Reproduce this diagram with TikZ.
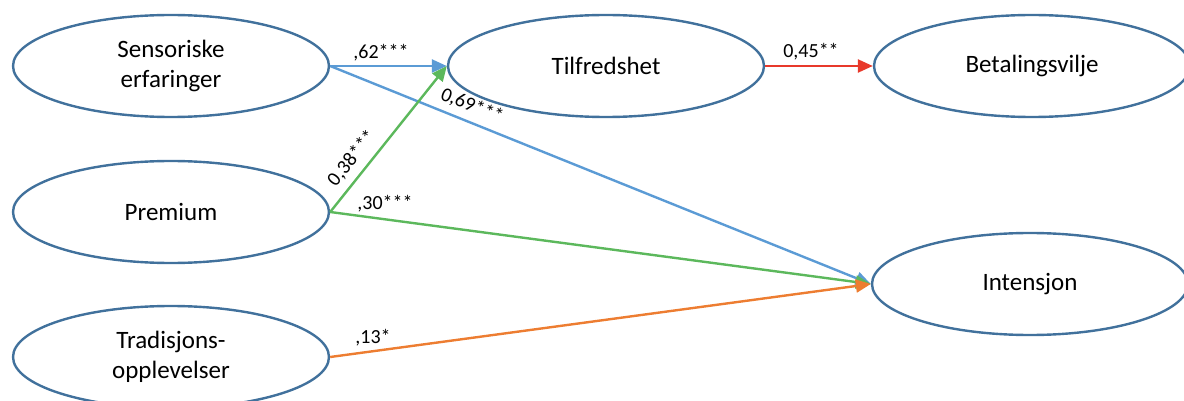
\documentclass[tikz,border=0pt]{standalone}
\usepackage{fontspec}
\setmainfont{Carlito}
\usetikzlibrary{arrows.meta, positioning, shapes.geometric}
\definecolor{cframe}{HTML}{41719C}
\definecolor{cblue}{HTML}{5B9BD5}
\definecolor{cgreen}{HTML}{5CB85C}
\definecolor{corange}{HTML}{ED7D31}
\definecolor{cred}{HTML}{E8392B}

\begin{document}
\begin{tikzpicture}[x=0.5pt, y=-0.5pt,
  latent/.style={ellipse, draw=cframe, line width=1.2pt, fill=white,
    minimum width=158pt, minimum height=51pt, align=center,
    font=\fontsize{12.5}{15}\selectfont, inner sep=0pt},
  path/.style={line width=1.2pt, -{Triangle[length=7.5pt,width=6.5pt]}},
  coef/.style={font=\fontsize{10}{12}\selectfont, inner sep=0pt}]
  \useasboundingbox (0,0) rectangle (1184,401);
  % Constructs
  \node[latent] (sens) at (171,66) {Sensoriske\\erfaringer};
  \node[latent] (prem) at (171,212) {Premium};
  \node[latent] (trad) at (171,357) {Tradisjons-\\opplevelser};
  \node[latent] (tilf) at (606,66) {Tilfredshet};
  \node[latent] (betal) at (1032,66) {Betalingsvilje};
  \node[latent] (inten) at (1030,284) {Intensjon};

  % Paths
  \draw[path, cblue] (sens.east) -- (tilf.west);
  \draw[path, cblue] (sens.east) -- (inten.west);
  \draw[path, cgreen] (prem.east) -- (tilf.west);
  \draw[path, cgreen] (prem.east) -- (inten.west);
  \draw[path, corange] (trad.east) -- (inten.west);
  \draw[path, cred] (tilf.east) -- (betal.west);

  % Coefficients
  \node[coef] (c62) at (381,53) {,62***};
  \node[coef, rotate=-22] (c69) at (472,106) {0,69***};
  \node[coef, rotate=51] (c38) at (352,158) {0,38***};
  \node[coef] (c30) at (385,204) {,30***};
  \node[coef] (c13) at (373,338) {,13*};
  \node[coef] (c45) at (811,52) {0,45**};
\end{tikzpicture}
\end{document}
